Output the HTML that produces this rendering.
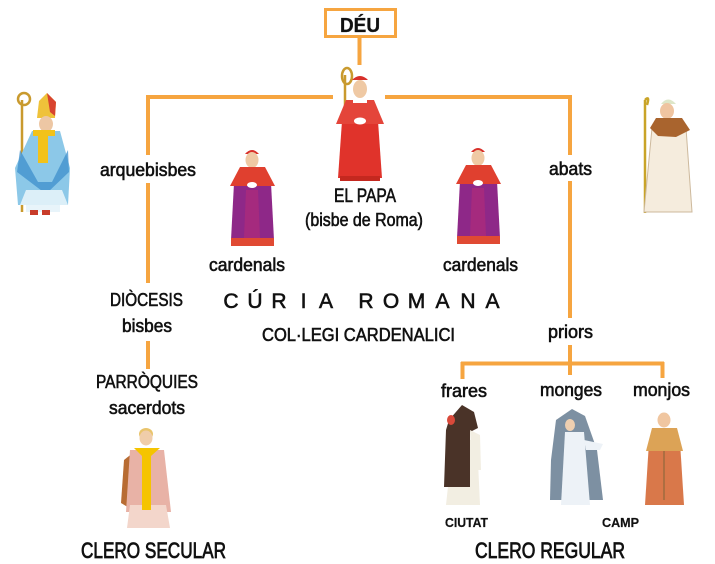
<!DOCTYPE html>
<html><head><meta charset="utf-8"><style>
html,body{margin:0;padding:0;background:#fff;}
svg{display:block;}
text{font-family:"Liberation Sans",sans-serif;fill:#111;stroke:#111;stroke-width:0.6;}
</style></head><body>
<svg width="715" height="564" viewBox="0 0 715 564" xmlns="http://www.w3.org/2000/svg">
<rect width="715" height="564" fill="#fff"/>
<!-- connectors -->
<g stroke="#F6A540" fill="none" stroke-width="4">
<rect x="325.5" y="9.5" width="70" height="27" stroke-width="3"/>
<line x1="359.5" y1="38" x2="359.5" y2="65"/>
<line x1="146" y1="97" x2="333" y2="97"/>
<line x1="385" y1="97" x2="572" y2="97"/>
<line x1="148" y1="95" x2="148" y2="155"/>
<line x1="148" y1="183" x2="148" y2="283"/>
<line x1="148" y1="341" x2="148" y2="369"/>
<line x1="570" y1="95" x2="570" y2="155"/>
<line x1="570" y1="181" x2="570" y2="318"/>
<line x1="570" y1="345" x2="570" y2="375"/>
<line x1="461" y1="363.5" x2="664" y2="363.5"/>
<line x1="462.5" y1="362" x2="462.5" y2="379"/>
<line x1="662.5" y1="362" x2="662.5" y2="378"/>
</g>

<!-- Archbishop -->
<g>
<line x1="22" y1="100" x2="22" y2="212" stroke="#C99A2E" stroke-width="2.5"/>
<circle cx="24" cy="99" r="6" fill="none" stroke="#C99A2E" stroke-width="2.5"/>
<polygon points="37,118 39,101 47,93 56,102 55,118" fill="#EFC23A"/>
<polygon points="47,93 56,102 55,116 50,112" fill="#D8442F"/>
<ellipse cx="46" cy="124" rx="7" ry="8" fill="#EDC7A4"/>
<path d="M32,131 L60,131 L70,168 L68,205 L18,205 L15,168 Z" fill="#8CC8E8"/>
<path d="M20,150 L38,182 L52,182 L68,150 L69,172 L46,194 L17,172 Z" fill="#3E8FCC" opacity="0.75"/>
<path d="M20,205 L26,190 L62,190 L68,205 Z" fill="#DCEFF8"/>
<rect x="38" y="131" width="10" height="32" fill="#F2C21A"/>
<rect x="33" y="130" width="22" height="6" fill="#F2C21A"/>
<rect x="26" y="205" width="34" height="7" fill="#E8F4FA"/>
<rect x="30" y="210" width="8" height="5" fill="#C83C2A"/>
<rect x="42" y="210" width="8" height="5" fill="#C83C2A"/>
</g>

<!-- Pope -->
<g>
<line x1="345" y1="75" x2="345" y2="180" stroke="#C99A2E" stroke-width="2.5"/>
<ellipse cx="347" cy="76" rx="5" ry="8" fill="none" stroke="#C99A2E" stroke-width="2.5"/>
<path d="M352,80 Q360,72 368,80 Z" fill="#D8302A"/>
<ellipse cx="360" cy="89" rx="7" ry="9" fill="#EFC9A4"/>
<path d="M342,121 L378,121 L382,178 L338,178 Z" fill="#E0332B"/>
<path d="M346,100 L374,100 L384,124 L336,124 Z" fill="#E4453A"/>
<rect x="353" y="99" width="14" height="4" fill="#fff"/>
<ellipse cx="360" cy="121" rx="6" ry="3.5" fill="#fff"/>
<rect x="340" y="176" width="40" height="5" fill="#C4281F"/>
</g>

<!-- Cardinal left -->
<g>
<path d="M245,154 Q252,146 259,154 Z" fill="#D8302A"/>
<ellipse cx="252" cy="160" rx="6.5" ry="8" fill="#EFC9A4"/>
<path d="M234,183 L271,183 L274,240 L231,240 Z" fill="#8E2888"/>
<path d="M246,190 L258,190 L260,238 L244,238 Z" fill="#A52A7E"/>
<path d="M240,167 L265,167 L275,186 L230,186 Z" fill="#E0402F"/>
<rect x="231" y="238" width="43" height="8" fill="#E04A33"/>
<ellipse cx="252" cy="185" rx="5" ry="3" fill="#fff"/>
</g>
<!-- Cardinal right -->
<g>
<path d="M471,152 Q478,144 485,152 Z" fill="#D8302A"/>
<ellipse cx="478" cy="158" rx="6.5" ry="8" fill="#EFC9A4"/>
<path d="M460,181 L497,181 L500,238 L457,238 Z" fill="#8E2888"/>
<path d="M472,188 L484,188 L486,236 L470,236 Z" fill="#A52A7E"/>
<path d="M466,165 L491,165 L501,184 L456,184 Z" fill="#E0402F"/>
<rect x="457" y="236" width="43" height="8" fill="#E04A33"/>
<ellipse cx="478" cy="183" rx="5" ry="3" fill="#fff"/>
</g>

<!-- Abbot -->
<g>
<line x1="645" y1="100" x2="645" y2="213" stroke="#C9A428" stroke-width="2.5"/>
<path d="M645,100 Q650,95 647,105" stroke="#C9A428" stroke-width="2.5" fill="none"/>
<path d="M661,104 Q668,95 676,104 Z" fill="#DDE6C8"/>
<ellipse cx="667" cy="111" rx="7" ry="8" fill="#EFC4A0"/>
<path d="M652,128 L686,128 L692,212 L644,212 Z" fill="#F5ECDD" stroke="#CDB99C" stroke-width="1"/>
<path d="M656,118 L682,118 L690,130 L676,137 L658,136 L650,128 Z" fill="#A9642E"/>
</g>

<!-- Priest -->
<g>
<ellipse cx="146" cy="434" rx="7" ry="6" fill="#E9C46C"/>
<ellipse cx="146" cy="438" rx="6.5" ry="7.5" fill="#F0CDAA"/>
<path d="M124,460 L134,452 L136,512 L121,503 Z" fill="#B86C33"/>
<path d="M130,450 L164,450 L171,512 L126,512 Z" fill="#E8B2A6"/>
<path d="M130,505 L166,505 L170,528 L127,528 Z" fill="#F3D6CB"/>
<rect x="142" y="448" width="9" height="62" fill="#F5C400"/>
<path d="M134,448 L160,448 L151,456 L142,456 Z" fill="#F5C400"/>
</g>

<!-- Friar -->
<g>
<path d="M453,440 L477,440 L480,505 L446,505 Z" fill="#F2EEE2"/>
<path d="M449,420 L462,405 L474,412 L478,428 L470,432 L470,487 L444,487 L446,430 Z" fill="#4A3328"/>
<ellipse cx="451" cy="420" rx="4" ry="5" fill="#D9493A"/>
<path d="M470,430 L480,435 L481,470 L472,470 Z" fill="#F2EEE2"/>
</g>

<!-- Nun -->
<g>
<path d="M556,420 L572,409 L585,416 L597,450 L603,500 L550,500 L551,460 Z" fill="#7D90A2"/>
<path d="M565,432 L584,432 L590,505 L561,505 Z" fill="#EDF2F7"/>
<ellipse cx="570" cy="425" rx="5" ry="6" fill="#EFCFB0"/>
<path d="M584,440 L603,444 L600,450 L586,450 Z" fill="#EDF2F7"/>
</g>

<!-- Monk -->
<g>
<ellipse cx="664" cy="420" rx="6.5" ry="7.5" fill="#F0C6A0"/>
<path d="M649,442 L680,442 L684,505 L645,505 Z" fill="#D9784A"/>
<path d="M652,428 L677,428 L683,451 L646,451 Z" fill="#DCA356"/>
<line x1="664" y1="451" x2="664" y2="500" stroke="#9E6A3E" stroke-width="1.5"/>
</g>

<!-- labels -->
<text x="340" y="32" font-size="20" font-weight="bold" textLength="40" lengthAdjust="spacingAndGlyphs" style="stroke-width:0.3">DÉU</text>
<text x="100" y="176" font-size="18" textLength="96" lengthAdjust="spacingAndGlyphs">arquebisbes</text>
<text x="209" y="271" font-size="18" textLength="76" lengthAdjust="spacingAndGlyphs">cardenals</text>
<text x="443" y="271" font-size="18" textLength="75" lengthAdjust="spacingAndGlyphs">cardenals</text>
<text x="334" y="202" font-size="19" textLength="62" lengthAdjust="spacingAndGlyphs">EL PAPA</text>
<text x="305" y="226" font-size="18" textLength="118" lengthAdjust="spacingAndGlyphs">(bisbe de Roma)</text>
<text x="549" y="175" font-size="18" textLength="43" lengthAdjust="spacingAndGlyphs">abats</text>
<text x="110" y="306" font-size="18" textLength="73" lengthAdjust="spacingAndGlyphs">DIÒCESIS</text>
<text x="122" y="332" font-size="18" textLength="50" lengthAdjust="spacingAndGlyphs">bisbes</text>
<g font-size="21" text-anchor="middle">
<text x="231" y="308">C</text><text x="255" y="308">Ú</text><text x="279" y="308">R</text><text x="303.5" y="308">I</text><text x="326" y="308">A</text>
<text x="366" y="308">R</text><text x="391" y="308">O</text><text x="416.5" y="308">M</text><text x="442.5" y="308">A</text><text x="468" y="308">N</text><text x="492.5" y="308">A</text>
</g>
<text x="262" y="341" font-size="18" textLength="193" lengthAdjust="spacingAndGlyphs">COL·LEGI CARDENALICI</text>
<text x="96" y="388" font-size="18" textLength="102" lengthAdjust="spacingAndGlyphs">PARRÒQUIES</text>
<text x="109" y="414" font-size="18" textLength="76" lengthAdjust="spacingAndGlyphs">sacerdots</text>
<text x="81" y="558" font-size="22" textLength="145" lengthAdjust="spacingAndGlyphs" style="stroke-width:0.8">CLERO SECULAR</text>
<text x="548" y="338" font-size="18" textLength="45" lengthAdjust="spacingAndGlyphs">priors</text>
<text x="441" y="397" font-size="18" textLength="46" lengthAdjust="spacingAndGlyphs">frares</text>
<text x="540" y="396" font-size="18" textLength="62" lengthAdjust="spacingAndGlyphs">monges</text>
<text x="633" y="396" font-size="18" textLength="57" lengthAdjust="spacingAndGlyphs">monjos</text>
<text x="445" y="527" font-size="13" font-weight="bold" textLength="43" lengthAdjust="spacingAndGlyphs" style="stroke-width:0.2">CIUTAT</text>
<text x="602" y="527" font-size="13" font-weight="bold" textLength="37" lengthAdjust="spacingAndGlyphs" style="stroke-width:0.2">CAMP</text>
<text x="475" y="558" font-size="22" textLength="150" lengthAdjust="spacingAndGlyphs" style="stroke-width:0.8">CLERO REGULAR</text>
</svg>
</body></html>
